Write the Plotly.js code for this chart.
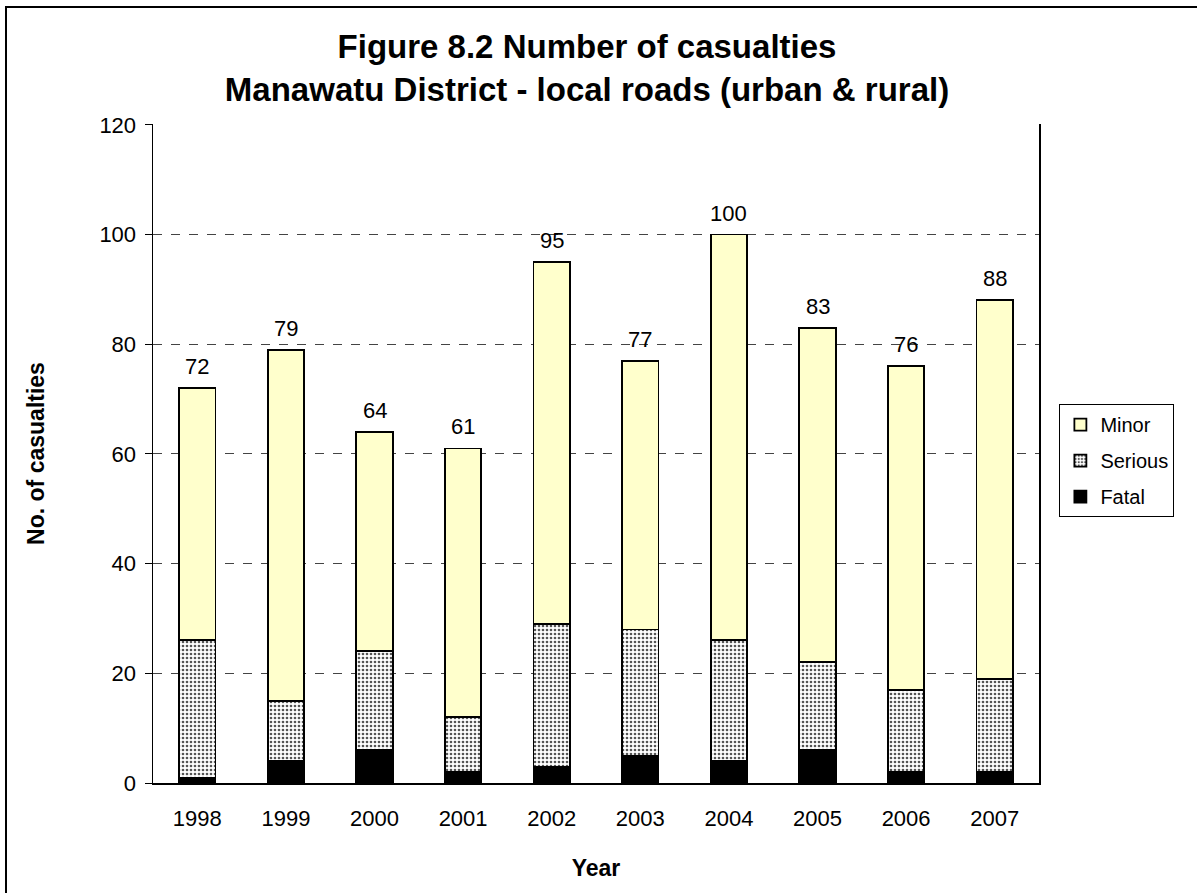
<!DOCTYPE html>
<html>
<head>
<meta charset="utf-8">
<script src="https://cdn.plot.ly/plotly-3.0.1.min.js"></script>
<style>
  html, body { margin: 0; padding: 0; background: #fff; }
  #wrap { position: relative; width: 1197px; height: 893px; }
  #chart { position: absolute; left: 0; top: 0; width: 1197px; height: 893px; }
  #frame { position: absolute; left: 5px; top: 6px; width: 1300px; height: 1000px;
           border-left: 2px solid #000; border-top: 2px solid #000; pointer-events: none; }
</style>
</head>
<body>
<div id="wrap">
  <div id="chart"></div>
  <div id="frame"></div>
</div>
<script>
const years   = ['1998','1999','2000','2001','2002','2003','2004','2005','2006','2007'];
const fatal   = [1, 4, 6, 2, 3, 5, 4, 6, 2, 2];
const serious = [25, 11, 18, 10, 26, 23, 22, 16, 15, 17];
const minor   = [46, 64, 40, 49, 66, 49, 74, 61, 59, 69];
const totals  = years.map((_, i) => fatal[i] + serious[i] + minor[i]);
const yTicks  = [0, 20, 40, 60, 80, 100, 120];

const FONT = 'Liberation Sans, Arial, sans-serif';
const outline = { color: '#000', width: 1.8 };

const traces = [
  { type: 'bar', name: 'Fatal', x: years, y: fatal, legendgroup: 'f', legendrank: 3,
    marker: { color: '#000000', line: outline } },
  { type: 'bar', name: 'Serious', x: years, y: serious, legendgroup: 's', legendrank: 2,
    marker: { color: '#ffffff', line: outline,
      pattern: { shape: '.', fgcolor: '#555555', bgcolor: '#ffffff', size: 4, solidity: 0.35 } } },
  { type: 'bar', name: 'Minor', x: years, y: minor, legendgroup: 'm', legendrank: 1,
    marker: { color: '#FFFFCC', line: outline } }
];

const annotations = years.map((yr, i) => ({
  x: i, y: totals[i], xref: 'x', yref: 'y', text: String(totals[i]),
  showarrow: false, yanchor: 'bottom', yshift: 7,
  font: { family: FONT, size: 22, color: '#000' }
}));

const layout = {
  width: 1197, height: 893,
  paper_bgcolor: '#ffffff', plot_bgcolor: '#ffffff',
  margin: { l: 153, r: 158, t: 124, b: 110, pad: 0 },
  barmode: 'stack', bargap: 0.59,
  font: { family: FONT, size: 22, color: '#000' },
  title: {
    text: '<b>Figure 8.2 Number of casualties<br>Manawatu District - local roads (urban &amp; rural)</b>',
    font: { family: FONT, size: 33, color: '#000' },
    x: 0.4904, xanchor: 'center', xref: 'container',
    y: 0.935, yanchor: 'top', yref: 'container'
  },
  xaxis: {
    type: 'category', categoryorder: 'array', categoryarray: years,
    range: [-0.5, 9.5],
    showline: true, linecolor: '#000', linewidth: 1.5, mirror: false,
    ticks: '', showgrid: false, zeroline: false,
    tickfont: { family: FONT, size: 22, color: '#000' },
    ticklabelstandoff: 15,
    title: { text: '<b>Year</b>', font: { family: FONT, size: 23, color: '#000' }, standoff: 30 }
  },
  yaxis: {
    range: [0, 120.15], tickvals: yTicks, ticktext: yTicks.map(String),
    showline: true, linecolor: '#000', linewidth: 1.5, mirror: true,
    ticks: 'outside', ticklen: 7, tickcolor: '#000', tickwidth: 1,
    showgrid: true, gridcolor: '#444', gridwidth: 1, griddash: 'dash',
    zeroline: false,
    tickfont: { family: FONT, size: 22, color: '#000' },
    ticklabelstandoff: 4,
    title: { text: '<b>No. of casualties</b>', font: { family: FONT, size: 23, color: '#000' }, standoff: 48 }
  },
  legend: {
    x: 1.023, xanchor: 'left', y: 0.575, yanchor: 'top',
    traceorder: 'grouped',
    bordercolor: '#000', borderwidth: 1, bgcolor: '#fff',
    font: { family: FONT, size: 20, color: '#000' },
    itemwidth: 30, tracegroupgap: 7
  },
  annotations: annotations,
  showlegend: true
};

Plotly.newPlot('chart', traces, layout, { displayModeBar: false, staticPlot: true });
</script>
</body>
</html>
